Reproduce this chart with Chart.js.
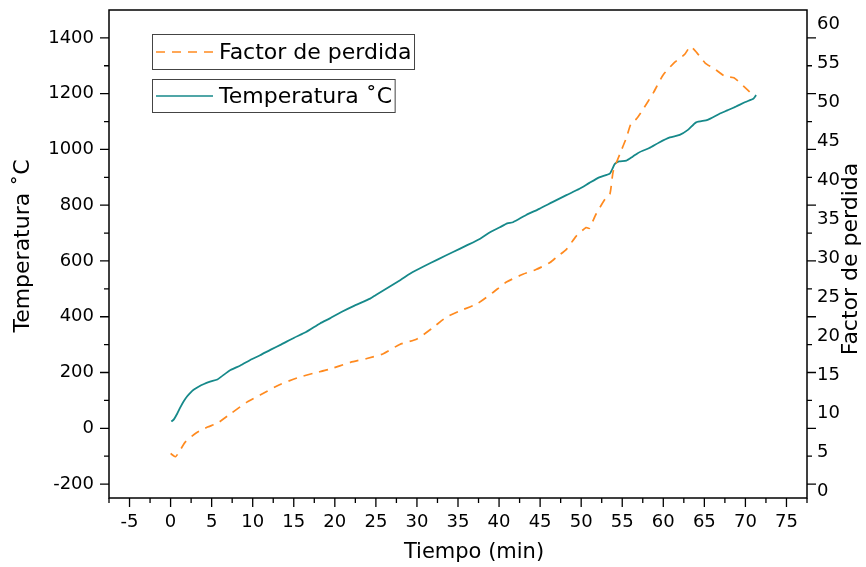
<!DOCTYPE html>
<html>
<head>
<meta charset="utf-8">
<script src="https://cdn.jsdelivr.net/npm/chart.js"></script>
<style>
    body { margin: 0; background: #fff; }
    #wrap { width: 866px; height: 567px; }
</style>
</head>
<body>
<div id="wrap"><canvas id="chart" width="866" height="567"></canvas></div>
<script>
// temperature curve (left axis)
const tempTime = [0.1, 0.4, 0.8, 1.2, 1.6, 2.0, 2.4, 2.8, 3.4, 4.0, 4.8, 5.7, 6.3, 7.3, 8.5, 9.7,
    10.9, 12.2, 13.5, 15.0, 16.5, 18.2, 19.4, 20.8, 22.4, 24.3, 25.0, 26.5, 28.0, 29.2, 30.8, 32.5,
    34.4, 36.0, 37.7, 38.9, 40.1, 41.0, 41.7, 43.3, 44.9, 46.5, 48.2, 49.8, 51.0, 52.2, 53.5, 53.8,
    54.1, 54.6, 55.5, 56.3, 57.1, 58.3, 59.5, 60.8, 62.0, 63.0, 64.0, 65.4, 66.8, 67.8, 68.8, 70.0,
    71.0, 71.3];
const tempValues = [24, 32, 52, 76, 97, 114, 127, 138, 149, 158, 167, 175, 188, 209, 225, 245,
    262, 282, 301, 324, 345, 376, 394, 417, 440, 465, 478, 505, 532, 555, 580, 605,
    632, 655, 680, 703, 721, 735, 739, 765, 787, 811, 836, 859, 880, 900, 914, 930,
    948, 957, 960, 975, 990, 1005, 1025, 1043, 1052, 1070, 1097, 1106, 1127, 1140, 1153, 1170,
    1183, 1195];

// loss factor curve (right axis)
const lossTime = [0.0, 0.6, 1.2, 1.8, 3.2, 4.5, 5.7, 7.3, 9.3, 10.9, 13.2, 15.4, 17.4, 19.3,
    21.9, 23.9, 25.9, 27.9, 30.0, 32.0, 33.6, 35.2, 37.3, 39.3, 40.9, 42.9, 44.5, 46.2, 47.0,
    48.2, 49.4, 50.6, 51.0, 51.8, 53.0, 53.5, 53.9, 54.7, 55.5, 56.1, 56.7, 57.5, 58.8, 60.0,
    61.4, 62.6, 63.3, 64.1, 65.1, 66.3, 67.5, 68.6, 69.8, 70.8, 71.1];
const lossValues = [4.9, 4.5, 5.4, 6.4, 7.6, 8.3, 8.8, 10.0, 11.5, 12.4, 13.7, 14.6, 15.2, 15.7,
    16.6, 17.1, 17.7, 18.9, 19.6, 21.1, 22.4, 23.2, 24.1, 25.6, 26.9, 27.9, 28.5, 29.4, 30.1,
    31.1, 32.8, 33.9, 33.8, 35.6, 37.7, 38.2, 41.1, 43.3, 45.4, 47.3, 47.8, 49.0, 51.2, 53.5,
    55.1, 56.1, 57.1, 56.3, 55.0, 54.2, 53.3, 53.1, 52.0, 51.0, 50.6];

const xTicks = [-5, 0, 5, 10, 15, 20, 25, 30, 35, 40, 45, 50, 55, 60, 65, 70, 75];
const tempTicks = [-200, 0, 200, 400, 600, 800, 1000, 1200, 1400];
const lossTicks = [0, 5, 10, 15, 20, 25, 30, 35, 40, 45, 50, 55, 60];

const tempColor = '#16898a';
const lossColor = '#ff8a1f';
const FONT = 'DejaVu Sans';

const toPoints = (xs, ys) => xs.map((x, i) => ({ x: x, y: ys[i] }));
const plain = v => String(v);

// frame, minor/major ticks, titles and the two boxed legend entries
const decor = {
    id: 'decor',
    afterDraw(chart) {
        const ctx = chart.ctx;
        const a = chart.chartArea;
        const sx = chart.scales.x, sy = chart.scales.y;
        ctx.save();
        ctx.strokeStyle = '#000';
        ctx.lineWidth = 1.5;
        ctx.strokeRect(a.left, a.top, a.right - a.left, a.bottom - a.top);

        ctx.lineWidth = 1.3;
        ctx.beginPath();
        for (let v = -7.5; v <= 77.5; v += 2.5) {
            const px = sx.getPixelForValue(v);
            const len = (v % 5 === 0) ? 9 : 5;
            ctx.moveTo(px, a.bottom);
            ctx.lineTo(px, a.bottom + len);
        }
        for (let v = -200; v <= 1400; v += 100) {
            const py = sy.getPixelForValue(v);
            const len = (v % 200 === 0) ? 9 : 5;
            ctx.moveTo(a.left, py);
            ctx.lineTo(a.left - len, py);
            // right side ticks follow the left scale, as in the original
            ctx.moveTo(a.right, py);
            ctx.lineTo(a.right + len, py);
        }
        ctx.stroke();

        // axis titles
        ctx.fillStyle = '#000';
        ctx.textAlign = 'center';
        ctx.textBaseline = 'middle';
        ctx.font = '21px "' + FONT + '"';
        ctx.fillText('Tiempo (min)', 474, 553);
        ctx.font = '22px "' + FONT + '"';
        ctx.save();
        ctx.translate(23, 246);
        ctx.rotate(-Math.PI / 2);
        ctx.fillText('Temperatura ˚C', 0, 0);
        ctx.restore();
        ctx.save();
        ctx.translate(851, 259);
        ctx.rotate(-Math.PI / 2);
        ctx.fillText('Factor de perdida', 0, 0);
        ctx.restore();

        // legend boxes
        const entries = [
            { text: 'Factor de perdida', color: lossColor, dash: [9, 7], y: 34.5, h: 35 },
            { text: 'Temperatura ˚C', color: tempColor, dash: [], y: 79.5, h: 33 }
        ];
        ctx.textAlign = 'left';
        entries.forEach(e => {
            const w = ctx.measureText(e.text).width;
            ctx.strokeStyle = '#444';
            ctx.lineWidth = 1;
            ctx.setLineDash([]);
            ctx.strokeRect(152.5, e.y, 219 - 152.5 + w + 3, e.h);
            const my = e.y + e.h / 2;
            ctx.strokeStyle = e.color;
            ctx.lineWidth = 1.7;
            ctx.setLineDash(e.dash);
            ctx.beginPath();
            ctx.moveTo(156, my);
            ctx.lineTo(213, my);
            ctx.stroke();
            ctx.setLineDash([]);
            ctx.fillStyle = '#000';
            ctx.fillText(e.text, 219, my + 1);
        });
        ctx.restore();
    }
};

const tickFont = { family: FONT, size: 18 };

new Chart(document.getElementById('chart'), {
    type: 'line',
    data: {
        datasets: [
            {
                label: 'Factor de perdida',
                data: toPoints(lossTime, lossValues),
                yAxisID: 'y2',
                borderColor: lossColor,
                borderWidth: 1.7,
                borderDash: [9, 7],
                pointRadius: 0,
                tension: 0.2,
                fill: false
            },
            {
                label: 'Temperatura ˚C',
                data: toPoints(tempTime, tempValues),
                yAxisID: 'y',
                borderColor: tempColor,
                borderWidth: 1.8,
                pointRadius: 0,
                tension: 0.2,
                fill: false
            }
        ]
    },
    options: {
        responsive: false,
        animation: false,
        events: [],
        layout: { padding: { top: 10, left: 0, right: 0, bottom: 0 } },
        plugins: { legend: { display: false }, tooltip: { enabled: false } },
        scales: {
            x: {
                type: 'linear',
                position: 'bottom',
                min: -7.5,
                max: 77.5,
                afterBuildTicks: s => { s.ticks = xTicks.map(v => ({ value: v })); },
                afterFit: s => { s.height = 69; s.paddingLeft = 0; s.paddingRight = 0; },
                grid: { display: false, drawTicks: false },
                border: { display: false },
                ticks: {
                    autoSkip: false, maxRotation: 0, padding: 14, color: '#000',
                    font: tickFont, callback: plain
                }
            },
            y: {
                position: 'left',
                min: -250,
                max: 1500,
                afterBuildTicks: s => { s.ticks = tempTicks.map(v => ({ value: v })); },
                afterFit: s => { s.width = 109; s.paddingTop = 0; s.paddingBottom = 0; },
                grid: { display: false, drawTicks: false },
                border: { display: false },
                ticks: { padding: 15, color: '#000', font: tickFont, callback: plain }
            },
            y2: {
                position: 'right',
                min: -0.8,
                max: 61.8,
                afterBuildTicks: s => { s.ticks = lossTicks.map(v => ({ value: v })); },
                afterFit: s => { s.width = 59; s.paddingTop = 0; s.paddingBottom = 0; },
                grid: { display: false, drawTicks: false },
                border: { display: false },
                ticks: { padding: 10, color: '#000', font: tickFont, callback: plain }
            }
        }
    },
    plugins: [decor]
});
</script>
</body>
</html>
